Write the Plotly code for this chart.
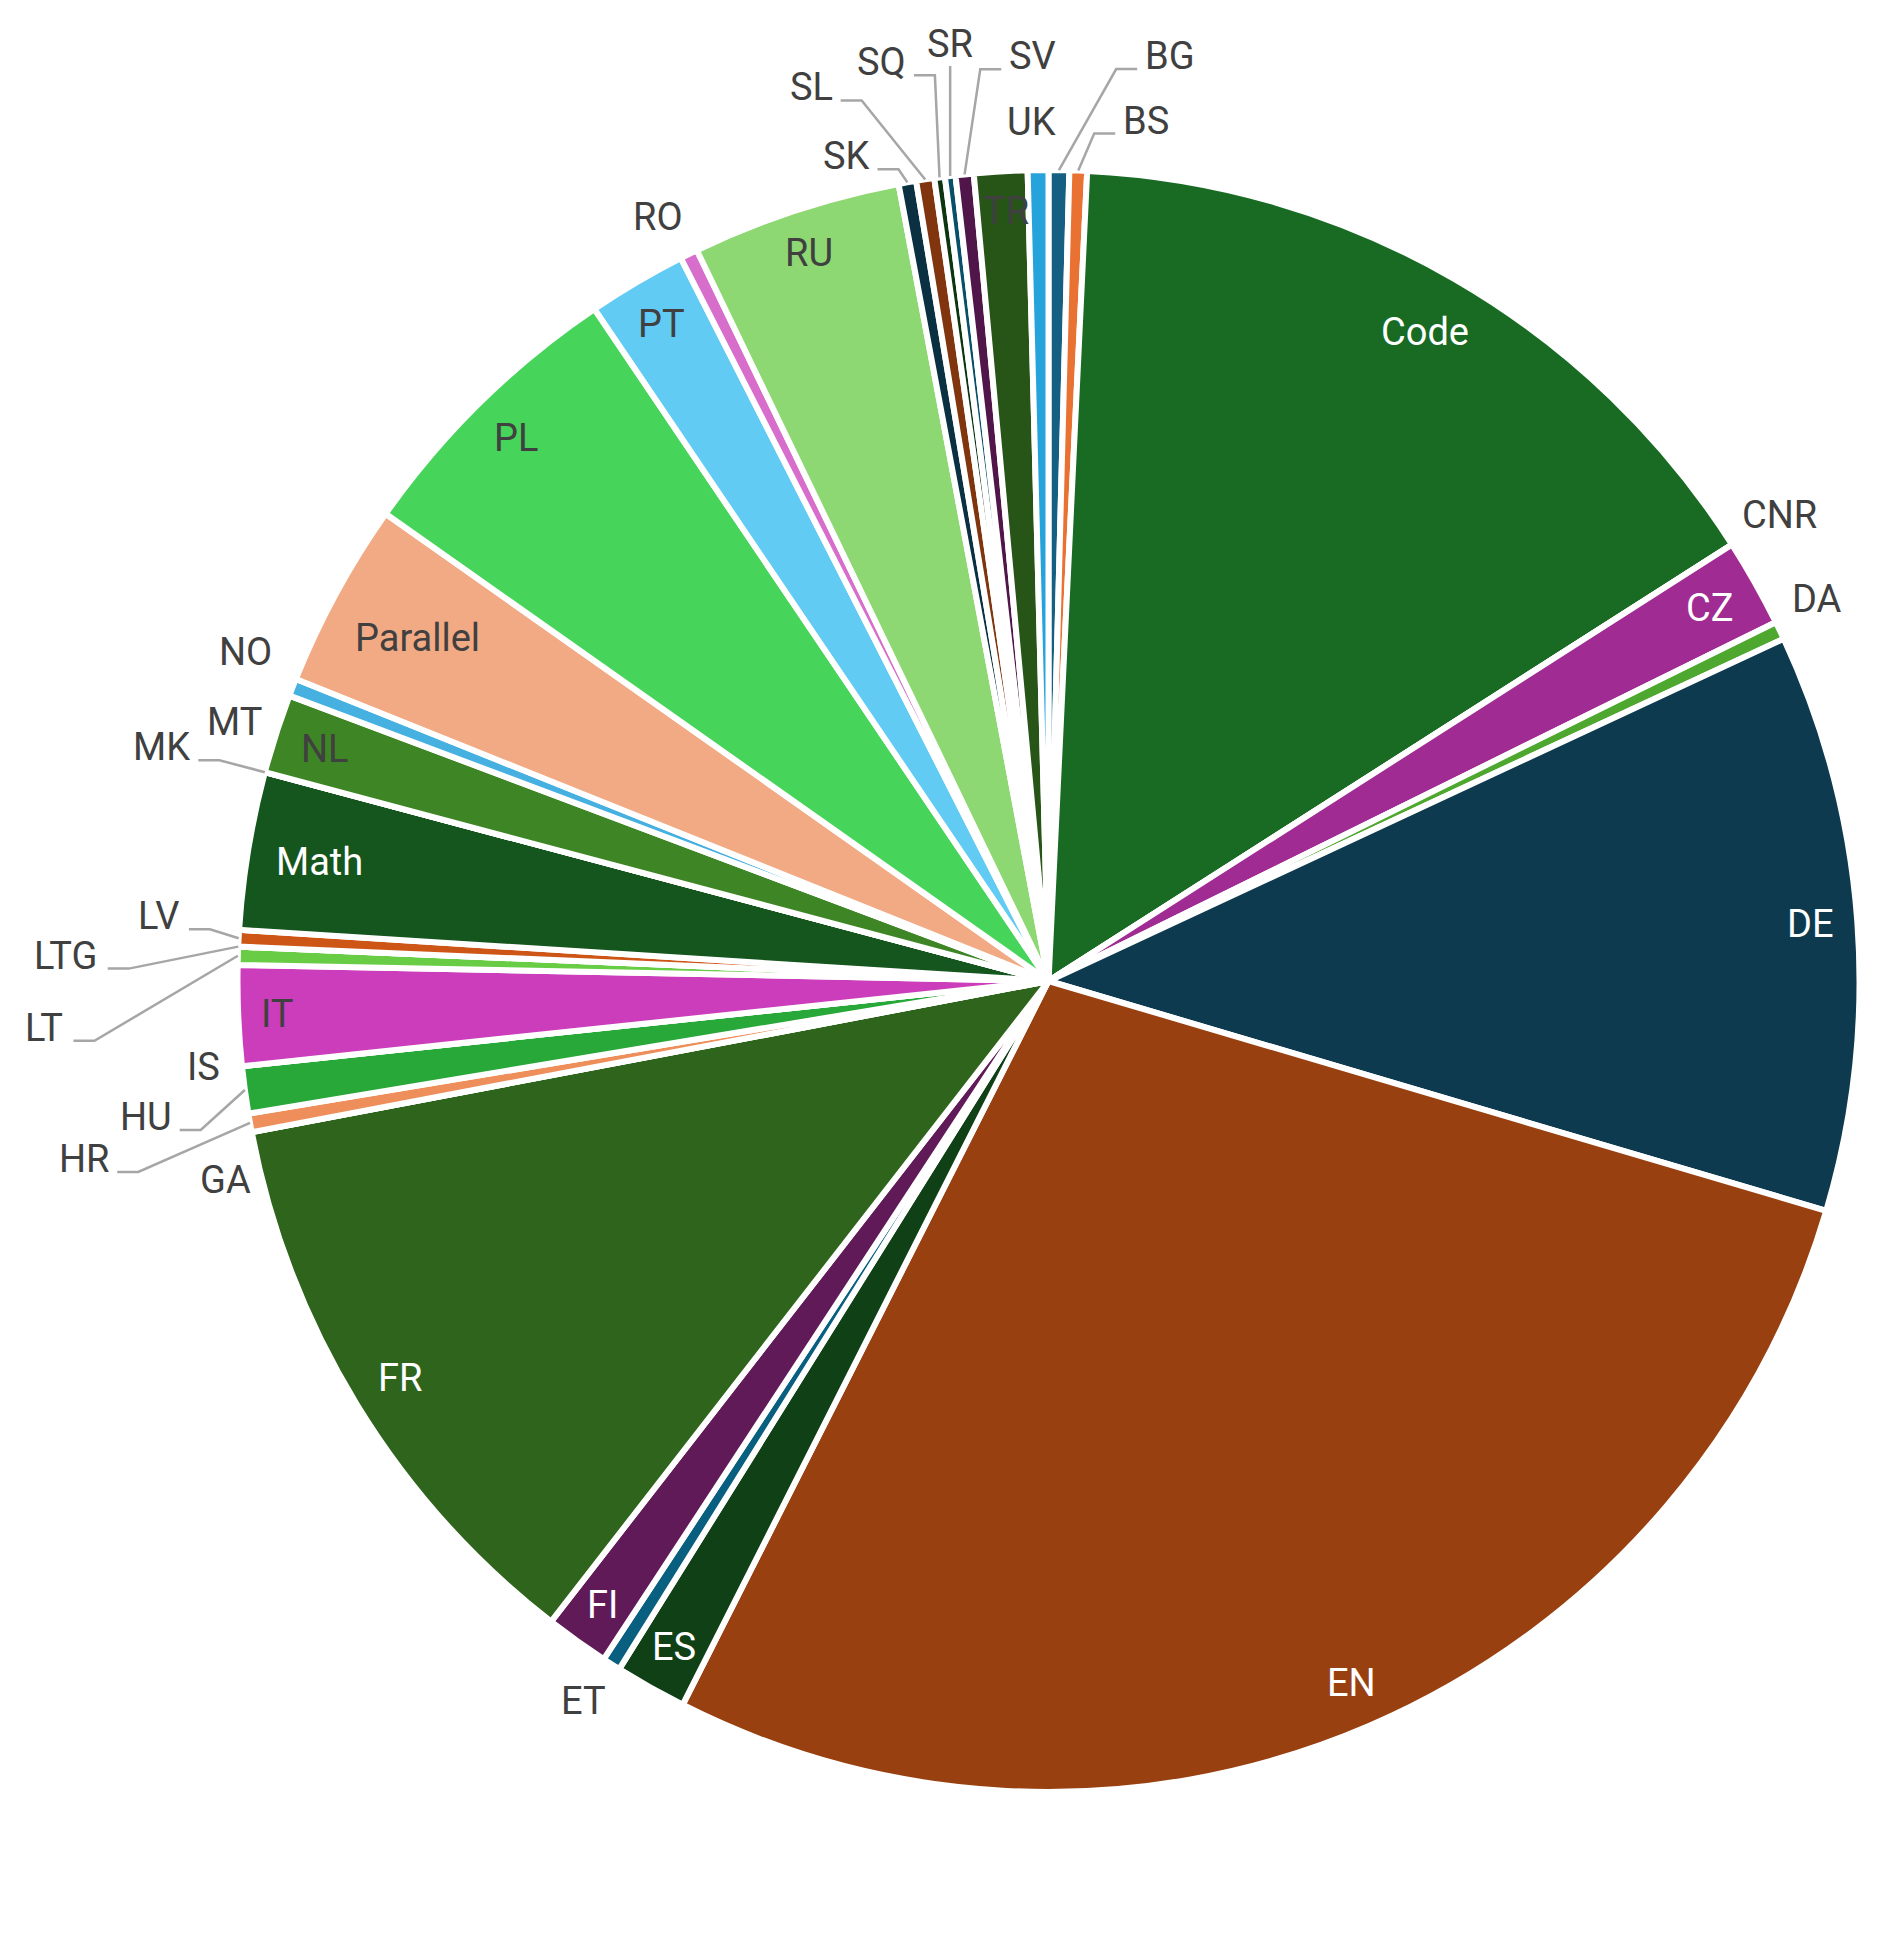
import math
import plotly.graph_objects as go

# Share of each subset (percent)
labels = ["BG", "BS", "Code", "CNR", "CZ", "DA", "DE", "EN", "ES", "ET", "FI", "FR",
          "GA", "HR", "HU", "IS", "IT", "LT", "LTG", "LV", "Math", "MK", "MT", "NL",
          "NO", "Parallel", "PL", "PT", "RO", "RU", "SK", "SL", "SQ", "SR", "SV", "TR", "UK"]
values = [0.41, 0.35, 15.20, 0.0, 1.75, 0.36, 11.51, 27.88, 1.43, 0.36, 1.27, 11.51,
          0.0, 0.37, 0.94, 0.0, 1.99, 0.36, 0.0, 0.33, 3.14, 0.0, 0.0, 1.58,
          0.35, 3.70, 5.77, 1.97, 0.35, 4.18, 0.35, 0.36, 0.21, 0.21, 0.36, 1.06, 0.41]

colors = ["#156082", "#E97132", "#196B24", "#0F9ED5", "#A02B93", "#4EA72E",
          "#0D3A4E", "#994011", "#0F4016", "#095F80", "#601A58", "#2F641C",
          "#1F8EC0", "#ED8E5B", "#27A839", "#2CBAF0", "#CB3DBB", "#69CC45",
          "#114D68", "#CD5516", "#14561D", "#0C7EAA", "#802276", "#3E8625",
          "#46B1E1", "#F2AA84", "#47D45A", "#61CBF4", "#D86ECC", "#8ED873",
          "#0A3041", "#80350E", "#0C3612", "#084F6A", "#50164A", "#275417",
          "#27A3DC"]

# ---------------- styling / layout (not data) ----------------
W, H = 1895, 1941
CX, CY, R = 1048.5, 981.0, 808.0      # pie centre / radius in pixels
LINE_W = 6
FS = 38
FONT = "Roboto, 'Open Sans', sans-serif"
DARK = "#404040"
LEADER = "#A6A6A6"

inside = ["Code", "CZ", "DE", "EN", "ES", "FI", "FR", "IT", "Math", "NL",
          "Parallel", "PL", "PT", "RU"]
# label offsets (px) from the slice's outer-rim midpoint, and whether a leader line is drawn
outside_style = {
    "CNR": (47, -30, False), "DA": (37, -31, False), "ET": (-28, 37, False),
    "GA": (-26, 48, False), "HR": (-166, 36, True), "HU": (-99, 27, True),
    "IS": (-38, 1, False), "LT": (-194, 72, True), "LTG": (-173, 9, True),
    "LV": (-80, -22, True), "MK": (-103, -25, True), "MT": (-30, -50, False),
    "NO": (-47, -35, False), "RO": (-31, -37, False), "SK": (-61, -26, True),
    "SL": (-114, -92, True), "SQ": (-58, -115, True), "SR": (0, -132, True),
    "SV": (68, -118, True), "TR": (5, 40, False), "UK": (-7, -48, False),
    "BG": (111, -114, True), "BS": (68, -50, True),
}

EM = {'A': .652, 'B': .622, 'C': .652, 'D': .655, 'E': .568, 'F': .553, 'G': .681,
      'H': .713, 'I': .272, 'K': .627, 'L': .538, 'M': .873, 'N': .713, 'O': .688,
      'P': .631, 'Q': .688, 'R': .616, 'S': .593, 'T': .597, 'U': .648, 'V': .636,
      'Z': .6, 'a': .544, 'd': .563, 'e': .530, 'h': .552, 'l': .243, 'o': .57,
      'r': .338, 't': .327}


def text_w(s):
    return sum(EM.get(ch, .6) for ch in s) * FS


def lum(hexc):
    r, g, b = (int(hexc[i:i + 2], 16) / 255 for i in (1, 3, 5))
    f = lambda c: c / 12.92 if c <= 0.03928 else ((c + 0.055) / 1.055) ** 2.4
    return 0.2126 * f(r) + 0.7152 * f(g) + 0.0722 * f(b)


def px2paper(x, y):
    return x / W, 1 - y / H


fig = go.Figure(go.Pie(
    labels=labels,
    values=values,
    sort=False,
    direction="clockwise",
    rotation=0,
    textinfo="none",
    automargin=False,
    marker=dict(colors=colors, line=dict(color="#FFFFFF", width=LINE_W)),
    hoverinfo="label+value",
    domain=dict(x=[(CX - R - LINE_W / 2) / W, (CX + R + LINE_W / 2) / W],
                y=[1 - (CY + R + LINE_W / 2) / H, 1 - (CY - R - LINE_W / 2) / H]),
))

total = sum(values)
annotations, shapes = [], []
cum = 0.0
for lab, v, col in zip(labels, values, colors):
    a0 = cum / total * 360
    cum += v
    a1 = cum / total * 360
    th = math.radians((a0 + a1) / 2)
    s, c = math.sin(th), math.cos(th)
    w = text_w(lab)
    if lab in inside:
        h = 31
        d = R - 15 - 1.2 * (w / 2 * abs(s) + h / 2 * abs(c))
        tx, ty = CX + d * s, CY - d * c
        tcol = "#FFFFFF" if lum(col) < 0.16 else DARK
    else:
        dx, dy, leader = outside_style[lab]
        ax_, ay_ = CX + (R + 3) * s, CY - (R + 3) * c
        tx, ty = ax_ + dx, ay_ + dy
        tcol = DARK
        if leader:
            base = ty + 13
            if abs(ax_ - tx) < w / 2:
                pts = [(ax_, ay_), (ax_, ty + 22)]
            elif ax_ > tx:
                x0 = tx + w / 2 + 8
                pts = [(ax_, ay_), (x0 + 21, base), (x0, base)]
            else:
                x0 = tx - w / 2 - 8
                pts = [(ax_, ay_), (x0 - 21, base), (x0, base)]
            path = "M " + " L ".join(f"{px2paper(x, y)[0]:.5f},{px2paper(x, y)[1]:.5f}" for x, y in pts)
            shapes.append(dict(type="path", path=path, xref="paper", yref="paper",
                               line=dict(color=LEADER, width=2.5)))
    px, py = px2paper(tx, ty)
    annotations.append(dict(x=px, y=py, xref="paper", yref="paper", text=lab,
                            showarrow=False, xanchor="center", yanchor="middle",
                            font=dict(family=FONT, size=FS, color=tcol)))

fig.update_layout(
    width=W, height=H,
    margin=dict(l=0, r=0, t=0, b=0, autoexpand=False),
    showlegend=False,
    paper_bgcolor="white",
    font=dict(family=FONT, size=FS, color=DARK),
    annotations=annotations,
    shapes=shapes,
)

fig.write_html("out.html")
